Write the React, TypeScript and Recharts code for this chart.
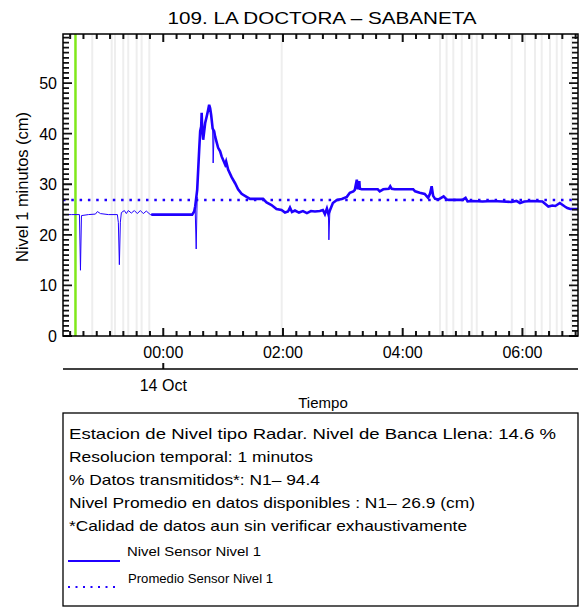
import React from 'react';
import { LineChart, Line, XAxis, YAxis, ReferenceLine } from 'recharts';

const titleText = '109. LA DOCTORA \u2013 SABANETA';
const yAxisTitle = 'Nivel 1 minutos (cm)';
const xAxisTitle = 'Tiempo';
const dateLabel = '14 Oct';
const infoLines = [
  'Estacion de Nivel tipo Radar. Nivel de Banca Llena: 14.6 %',
  'Resolucion temporal: 1 minutos',
  '% Datos transmitidos*: N1\u2013 94.4',
  'Nivel Promedio en datos disponibles : N1\u2013 26.9 (cm)',
  '*Calidad de datos aun sin verificar exhaustivamente',
];
const legendLabels = ['Nivel Sensor Nivel 1', 'Promedio Sensor Nivel 1'];

// minutes relative to 00:00, 14 Oct
const thinTimes = [
  -100, -92, -84, -83, -82, -75, -68, -66, -63, -55, -46, -45, -44, -43, -42, -39, -37, -35, -32, -29, -26, -23, -20,
  -17, -13, -11, -10, 32, 33, 34, 35, 49.5, 50, 51, 52, 165.5, 166, 167,
];
const thinLevels = [
  24.0, 24.0, 24.0, 13.0, 23.8, 24.0, 24.1, 24.6, 24.2, 24.0, 24.0, 22.4, 14.1, 22.5, 24.4, 24.8, 24.2, 24.8, 24.3, 24.8,
  24.2, 24.8, 24.2, 24.7, 24.0, 24.0, null, 25.0, 17.2, 27.5, null, 41.0, 34.2, 40.5, null, 24.5, 19.0, 24.8,
];
const mainTimes = [
  -12, 0, 15, 29, 31, 32, 34, 36, 37, 38, 38.5, 39, 40, 42, 44, 45, 46, 47, 48, 49.5, 51, 52, 55, 57, 58.5, 62, 63, 65,
  68.5, 72, 75, 78.5, 83.5, 87, 100, 103.5, 108.5, 113.5, 118.5, 122, 125, 127, 129, 132, 136, 140, 144, 148, 152, 157,
  160, 162, 164, 165.5, 167, 170, 174, 179, 184, 187, 190.5, 192, 194, 195, 196.5, 197, 199, 215, 217, 220.5, 226,
  227.5, 229, 232, 250.5, 252.5, 257, 262, 265.5, 267.5, 269, 270.5, 272.5, 276, 281, 284, 286, 300, 303, 305, 310,
  320, 330, 340, 349, 354, 357.5, 362, 370, 380, 386, 390, 393, 397.5, 402.5, 405, 408, 416,
];
const mainLevels = [
  24.0, 24.0, 24.0, 24.0, 24.6, 25.6, 28.9, 36.8, 40.5, 41.4, 44.1, 41.0, 38.8, 42.1, 43.8, 44.7, 45.7, 45.0, 43.7,
  41.0, 40.5, 39.4, 37.2, 36.5, 35.5, 33.9, 34.5, 32.9, 31.4, 30.2, 29.0, 28.1, 27.5, 27.1, 27.1, 26.4, 25.9, 25.1,
  24.9, 24.4, 24.6, 25.4, 24.5, 24.8, 24.4, 24.7, 24.3, 24.7, 24.6, 24.7, 24.9, 24.1, 25.2, 24.1, 24.8, 26.3, 26.9,
  27.1, 27.5, 28.3, 28.6, 28.9, 30.9, 29.0, 30.6, 29.1, 29.0, 29.0, 28.6, 29.0, 29.1, 29.6, 29.1, 29.0, 29.0, 28.6,
  28.3, 28.1, 27.3, 28.2, 29.6, 27.7, 27.1, 27.0, 27.6, 27.0, 26.9, 26.9, 27.3, 26.6, 26.7, 26.6, 26.7, 26.6, 26.5,
  26.7, 26.3, 26.6, 26.7, 26.6, 25.6, 25.8, 25.7, 26.3, 25.6, 25.3, 25.1, 25.1,
];

const meanLevel = 26.9;
const greenMarkTime = -88;
const gapTimes = [
  -71.2, -51.7, -48.4, -40.1, -35.1, -26.7, -21.7, -14.0, 118.7, 277.4, 284, 290.7, 299.2, 309.2, 314.2, 349.3, 362.6,
  372.6, 379.3, 387.6, 394.4, 399.4, 409.4,
];

const xDomain = [-100.5, 415.7];
const yDomain = [0, 59.7];
const xMajorTicks = [0, 120, 240, 360];
const xMajorLabels = ['00:00', '02:00', '04:00', '06:00'];
const xMinorTicks = [
  -93.333, -80, -66.667, -53.333, -40, -26.667, -13.333, 0, 13.333, 26.667, 40, 53.333, 66.667, 80, 93.333, 106.667,
  120, 133.333, 146.667, 160, 173.333, 186.667, 200, 213.333, 226.667, 240, 253.333, 266.667, 280, 293.333, 306.667,
  320, 333.333, 346.667, 360, 373.333, 386.667, 400, 413.333,
];
const yMajorTicks = [0, 10, 20, 30, 40, 50];
const yMinorTicks = [
  0, 1, 2, 3, 4, 5, 6, 7, 8, 9, 10, 11, 12, 13, 14, 15, 16, 17, 18, 19, 20, 21, 22, 23, 24, 25, 26, 27, 28, 29, 30, 31,
  32, 33, 34, 35, 36, 37, 38, 39, 40, 41, 42, 43, 44, 45, 46, 47, 48, 49, 50, 51, 52, 53, 54, 55, 56, 57, 58, 59,
];

const thinData = thinTimes.map((t, i) => ({ t, v: thinLevels[i] }));
const mainData = mainTimes.map((t, i) => ({ t, v: mainLevels[i] }));

const W = 581;
const H = 608;
const PL = 63;
const PR = 578;
const PT = 34;
const PB = 336;
const FONT = '"Liberation Sans", Arial, Helvetica, sans-serif';
const BLUE = '#2000ff';
const INK = '#111111';

const XTick = (props: any) => {
  const { x, payload } = props;
  const v = payload.value;
  const idx = xMajorTicks.indexOf(v);
  const len = idx >= 0 ? 8 : 5;
  return (
    <g>
      <path d={`M${x},${PB}V${PB - len}M${x},${PT}V${PT + len}`} stroke={INK} strokeWidth={2} fill="none" />
      {idx >= 0 && (
        <text x={x} y={358} textAnchor="middle" fontFamily={FONT} fontSize={16} fill="#000">
          {xMajorLabels[idx]}
        </text>
      )}
      {v === 0 && (
        <g>
          <path d={`M${x},369V363`} stroke={INK} strokeWidth={2} fill="none" />
          <text x={x} y={391} textAnchor="middle" fontFamily={FONT} fontSize={16} fill="#000">
            {dateLabel}
          </text>
        </g>
      )}
    </g>
  );
};

const YTick = (props: any) => {
  const { y, payload } = props;
  const v = payload.value;
  const major = yMajorTicks.indexOf(v) >= 0;
  const len = major ? 9 : 6;
  return (
    <g>
      <path d={`M${PL},${y}H${PL + len}M${PR},${y}H${PR - len}`} stroke={INK} strokeWidth={1.8} fill="none" />
      {major && (
        <text x={57} y={y + 6} textAnchor="end" fontFamily={FONT} fontSize={16} fill="#000">
          {String(v)}
        </text>
      )}
    </g>
  );
};

export default function App() {
  return (
    <div style={{ position: 'absolute', left: 0, top: 0, width: W, height: H, background: '#fff' }}>
      <LineChart width={W} height={H} margin={{ top: PT, right: W - PR, bottom: H - PB - 30, left: 3 }}>
        <XAxis
          dataKey="t"
          type="number"
          domain={xDomain}
          allowDataOverflow
          ticks={xMinorTicks}
          interval={0}
          height={30}
          axisLine={false}
          tickLine={false}
          tick={<XTick />}
        />
        <YAxis
          type="number"
          domain={yDomain}
          allowDataOverflow
          ticks={yMinorTicks}
          interval={0}
          width={60}
          axisLine={false}
          tickLine={false}
          tick={<YTick />}
        />
        {gapTimes.map((t, i) => (
          <ReferenceLine key={'g' + i} x={t} stroke="#eeeeee" strokeWidth={2} ifOverflow="hidden" />
        ))}
        <ReferenceLine x={greenMarkTime} stroke="#80e81a" strokeWidth={2.5} />
        <ReferenceLine y={meanLevel} stroke={BLUE} strokeWidth={2.5} strokeDasharray="2.5 5.8" />
        <Line data={thinData} dataKey="v" type="linear" stroke={BLUE} strokeWidth={1} dot={false} activeDot={false} connectNulls={false} isAnimationActive={false} />
        <Line data={mainData} dataKey="v" type="linear" stroke={BLUE} strokeWidth={2.6} dot={false} activeDot={false} isAnimationActive={false} />
      </LineChart>
      <svg width={W} height={H} style={{ position: 'absolute', left: 0, top: 0, pointerEvents: 'none' }} fontFamily={FONT}>
        <text x={322} y={24} textAnchor="middle" fontSize={17} textLength={309} lengthAdjust="spacingAndGlyphs">
          {titleText}
        </text>
        <text transform="translate(28 187) rotate(-90)" textAnchor="middle" fontSize={16} textLength={150} lengthAdjust="spacingAndGlyphs">
          {yAxisTitle}
        </text>
        <rect x={PL} y={PT} width={PR - PL} height={PB - PT} fill="none" stroke="#000" strokeWidth={1.5} />
        <line x1={PL} x2={PR} y1={369} y2={369} stroke="#000" strokeWidth={1.5} />
        <text x={323} y={408} textAnchor="middle" fontSize={15}>{xAxisTitle}</text>
        <rect x={63} y={413} width={515} height={193} fill="none" stroke="#000" strokeWidth={1.3} />
        {infoLines.map((s, i) => (
          <text key={i} x={69} y={439 + i * 23} fontSize={15} textLength={[487, 244, 251, 406, 398][i]} lengthAdjust="spacingAndGlyphs">
            {s}
          </text>
        ))}
        <line x1={68} x2={120} y1={561} y2={561} stroke={BLUE} strokeWidth={2} />
        <text x={127} y={556} fontSize={12} textLength={134} lengthAdjust="spacingAndGlyphs">{legendLabels[0]}</text>
        <line x1={68} x2={120} y1={587} y2={587} stroke={BLUE} strokeWidth={2} strokeDasharray="2 5.5" />
        <text x={128} y={583} fontSize={12} textLength={145} lengthAdjust="spacingAndGlyphs">{legendLabels[1]}</text>
      </svg>
    </div>
  );
}
